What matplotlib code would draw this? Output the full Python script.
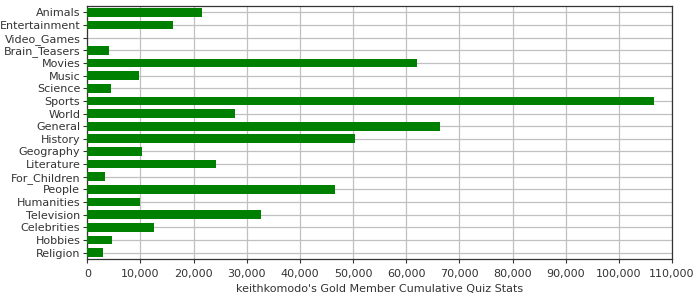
import matplotlib
matplotlib.use("Agg")
import matplotlib.pyplot as plt
from matplotlib.ticker import FuncFormatter, MultipleLocator

categories = ["Animals", "Entertainment", "Video_Games", "Brain_Teasers", "Movies",
              "Music", "Science", "Sports", "World", "General", "History",
              "Geography", "Literature", "For_Children", "People", "Humanities",
              "Television", "Celebrities", "Hobbies", "Religion"]
values = [21500, 16060, 0, 4080, 62000, 9660, 4400, 106560, 27770, 66320,
          50340, 10290, 24200, 3330, 46580, 9910, 32660, 12540, 4640, 2950]
x_label = "keithkomodo's Gold Member Cumulative Quiz Stats"

fig = plt.figure(figsize=(7, 3), dpi=100)
ax = fig.add_axes([87.3/700, 1 - 259/300, (672 - 87.3)/700, (259 - 6)/300])

pos = list(range(len(categories)))
ax.barh(pos, values, height=0.69, color="#008000", zorder=3)
ax.set_yticks(pos)
ax.set_yticklabels(categories)
ax.set_ylim(len(categories) - 0.5, -0.5)
ax.set_xlim(0, 110000)
ax.xaxis.set_major_locator(MultipleLocator(10000))
ax.xaxis.set_major_formatter(FuncFormatter(lambda v, p: f"{int(v):,}"))
ax.grid(True, color="#c0c0c0", linewidth=0.9, zorder=0)
ax.set_axisbelow(True)
for s in ax.spines.values():
    s.set_color("#333333")
    s.set_linewidth(0.9)
ax.tick_params(axis="both", labelsize=8, colors="#333333", length=3, width=0.8, pad=2)
ax.tick_params(axis="x", pad=4)
ax.set_xlabel(x_label, fontsize=8, color="#333333", labelpad=4)

fig.savefig("out.png", dpi=100)
